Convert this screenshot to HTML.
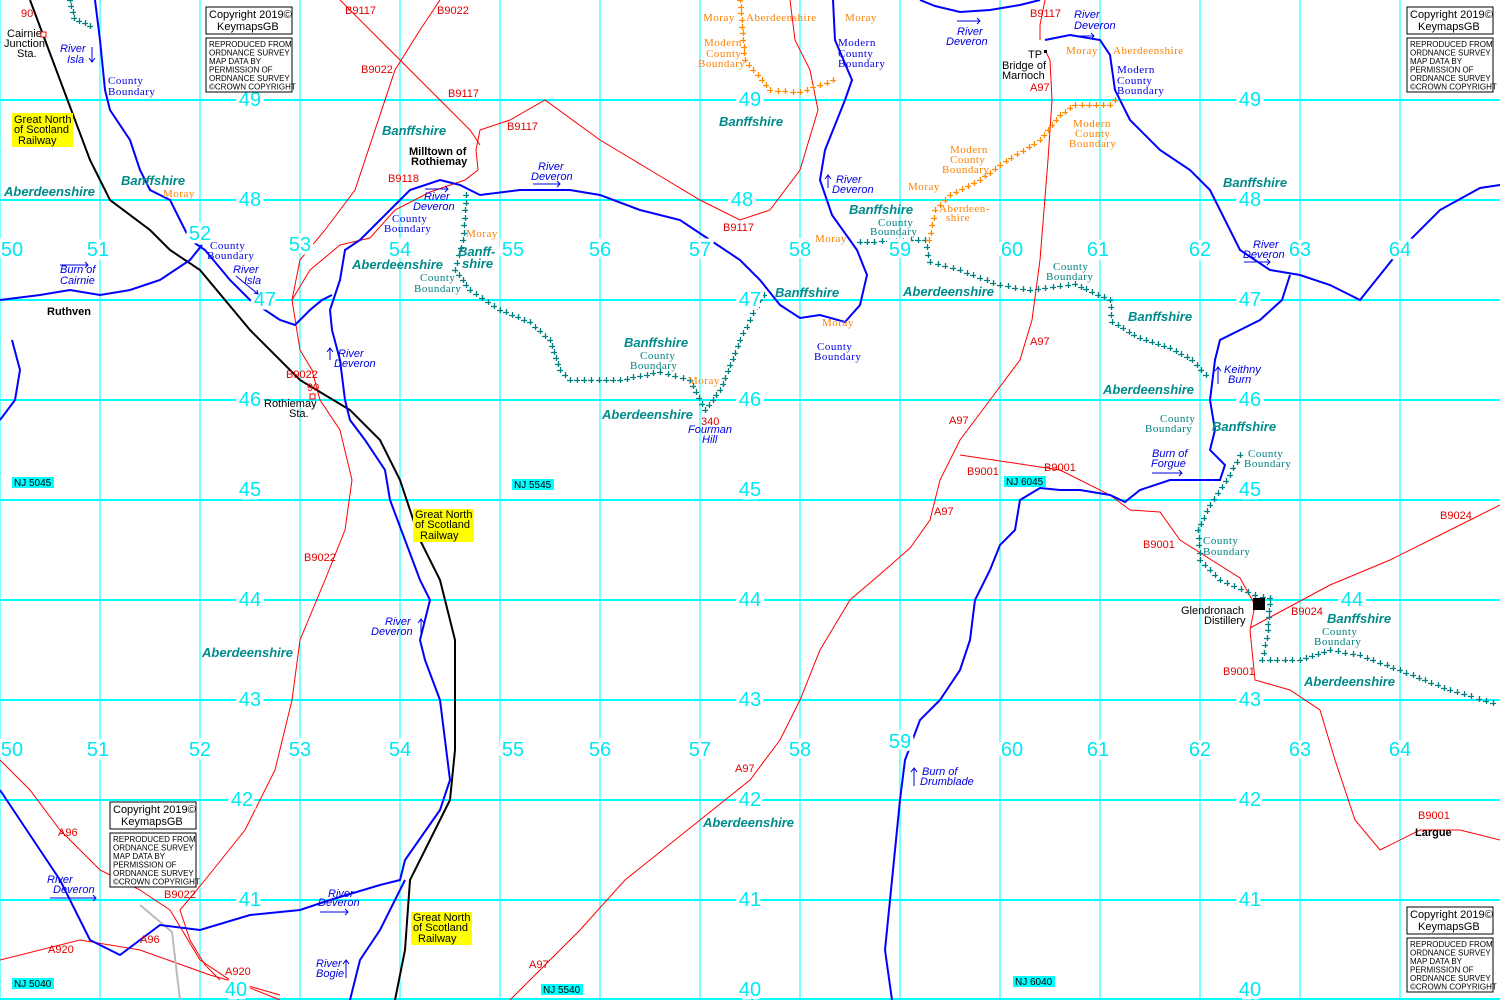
<!DOCTYPE html>
<html><head><meta charset="utf-8"><style>
html,body{margin:0;padding:0;background:#fff}
svg{display:block}
.g{font:20px "Liberation Sans",sans-serif;fill:#00e8f0;paint-order:stroke;stroke:#fff;stroke-width:7px;text-anchor:middle;dominant-baseline:central}
.riv{font:italic 11px "Liberation Sans",sans-serif;fill:#0000e0}
.cb{font:11px "Liberation Serif",serif;fill:#0000e0;letter-spacing:.5px}
.cbt{font:11px "Liberation Serif",serif;fill:#008080;letter-spacing:.5px}
.ray{font:11px "Liberation Serif",serif;fill:#ff8000;letter-spacing:.5px}
.co{font:bold italic 13px "Liberation Sans",sans-serif;fill:#008b8b}
.rd{font:11px "Liberation Sans",sans-serif;fill:#e00000}
.bk{font:11px "Liberation Sans",sans-serif;fill:#000}
.bb{font:bold 11px "Liberation Sans",sans-serif;fill:#000}
.sm{font:8px "Liberation Sans",sans-serif;fill:#000}
</style></head><body>
<svg id="m" width="1500" height="1000" viewBox="0 0 1500 1000" xmlns="http://www.w3.org/2000/svg">
<g stroke="#00ffff" fill="none">
<g stroke-width="1">
<line x1="0" y1="0" x2="0" y2="1000"/><line x1="100" y1="0" x2="100" y2="1000"/><line x1="200" y1="0" x2="200" y2="1000"/><line x1="300" y1="0" x2="300" y2="1000"/><line x1="400" y1="0" x2="400" y2="1000"/><line x1="500" y1="0" x2="500" y2="1000"/><line x1="600" y1="0" x2="600" y2="1000"/><line x1="700" y1="0" x2="700" y2="1000"/><line x1="800" y1="0" x2="800" y2="1000"/><line x1="900" y1="0" x2="900" y2="1000"/><line x1="1000" y1="0" x2="1000" y2="1000"/><line x1="1100" y1="0" x2="1100" y2="1000"/><line x1="1200" y1="0" x2="1200" y2="1000"/><line x1="1300" y1="0" x2="1300" y2="1000"/><line x1="1400" y1="0" x2="1400" y2="1000"/>
</g>
<g stroke-width="2">
<line x1="0" y1="100" x2="1500" y2="100"/><line x1="0" y1="200" x2="1500" y2="200"/><line x1="0" y1="300" x2="1500" y2="300"/><line x1="0" y1="400" x2="1500" y2="400"/><line x1="0" y1="500" x2="1500" y2="500"/><line x1="0" y1="600" x2="1500" y2="600"/><line x1="0" y1="700" x2="1500" y2="700"/><line x1="0" y1="800" x2="1500" y2="800"/><line x1="0" y1="900" x2="1500" y2="900"/><line x1="0" y1="999" x2="1500" y2="999"/>
</g></g>

<g stroke="#ff0000" stroke-width="1" fill="none">
<polyline points="510,1000 580,930 625,880 700,820 750,780 780,740 800,700 820,650 850,600 885,570 910,548 930,520 940,480 960,440 990,400 1020,360 1032,320 1040,260 1048,160 1052,100 1050,60 1045,50"/>
<polyline points="440,0 420,30 395,70 375,130 355,190 325,230 300,260 292,300 300,350 312,370 320,400 340,430 352,480 345,530 325,580 300,640 292,700 275,770 245,830 205,880 180,910 190,940 205,965 220,980"/>
<polyline points="292,300 310,270 340,245 370,238 395,210 430,192 465,180 478,170 476,150 480,130"/>
<polyline points="340,0 380,40 420,80 450,110 470,130 480,145"/>
<polyline points="480,130 510,120 545,100 600,140 650,170 700,200 740,220 770,210 800,170 818,110 810,70 795,40 790,0"/>
<polyline points="960,455 1060,470 1110,495 1130,510 1160,512 1180,540 1240,578 1255,605 1250,630 1255,680 1290,690 1320,710 1335,760 1355,820 1380,850 1420,830 1460,830 1500,840"/>
<polyline points="1250,628 1330,585 1390,560 1430,540 1470,520 1500,505"/>
<polyline points="0,760 30,790 60,830 100,870 140,890 170,910 200,960 230,980 280,1000"/>
<polyline points="0,960 80,940 140,950 210,975 280,995"/>
<polyline points="1040,40 1040,25 1045,0"/>
</g>
<polyline points="30,0 60,80 90,160 110,200 150,230 170,250 200,270 250,330 300,380 350,410 380,440 400,480 420,540 440,580 455,640 455,750 450,800 430,840 410,880 405,950 395,1000" fill="none" stroke="#000" stroke-width="2"/>
<polyline points="140,905 172,932 180,1000" fill="none" stroke="#bbb" stroke-width="2"/>
<g stroke="#0000ff" stroke-width="2" fill="none">
<polyline points="0,790 20,820 40,850 60,880 90,940 120,955 160,925 200,930 250,915 300,910 330,900 380,885 400,880 405,860 440,810 450,780 440,700 425,660 420,640 430,600 420,580 405,540 390,500 385,470 365,440 350,420 345,400 340,360 332,330 330,310 340,280 345,250 360,240 380,220 395,205 410,190 440,180 460,185 470,190 480,195 520,190 570,190 600,195 640,210 680,220 710,240 740,260 760,280 780,305 800,318 820,315 845,322 860,305 867,275 857,250 832,215 820,180 825,150 845,100 852,80 835,40 833,0"/>
<polyline points="920,0 935,6 960,12 990,10 1020,5 1040,0"/>
<polyline points="1045,40 1070,35 1100,40 1110,55 1115,90 1130,120 1160,150 1190,170 1210,190 1225,220 1240,250 1270,270 1300,275 1330,285 1360,300 1400,250 1440,210 1480,188 1500,185"/>
<polyline points="1290,275 1282,300 1260,320 1240,330 1220,340 1215,360 1210,400 1215,430 1210,450 1225,465 1220,480 1200,480 1170,480 1140,490 1125,502 1110,495 1080,490 1060,490 1040,488 1020,500 1015,530 1000,545 990,570 975,600 970,640 960,670 940,700 920,720 905,760 900,800 895,850 890,900 885,950 892,1000"/>
<polyline points="95,0 100,40 105,90 110,110 130,140 140,170 150,190 170,200 180,220 190,240 205,250 230,280 250,300 280,320 295,325 310,310 322,300 332,295"/>
<polyline points="0,300 40,295 70,290 100,295 130,290 160,280 190,260 202,245"/>
<polyline points="12,340 20,370 15,400 0,420"/>
<polyline points="350,1000 360,960 380,930 395,900 405,880"/>
</g>
<g id="cr" stroke-width="1.3" fill="none"></g>

<g class="g">
<text x="12" y="250">50</text><text x="98" y="250">51</text><text x="200" y="234">52</text><text x="300" y="245">53</text><text x="400" y="250">54</text><text x="513" y="250">55</text><text x="600" y="250">56</text><text x="700" y="250">57</text><text x="800" y="250">58</text><text x="900" y="250">59</text><text x="1012" y="250">60</text><text x="1098" y="250">61</text><text x="1200" y="250">62</text><text x="1300" y="250">63</text><text x="1400" y="250">64</text>
<text x="12" y="750">50</text><text x="98" y="750">51</text><text x="200" y="750">52</text><text x="300" y="750">53</text><text x="400" y="750">54</text><text x="513" y="750">55</text><text x="600" y="750">56</text><text x="700" y="750">57</text><text x="800" y="750">58</text><text x="900" y="742">59</text><text x="1012" y="750">60</text><text x="1098" y="750">61</text><text x="1200" y="750">62</text><text x="1300" y="750">63</text><text x="1400" y="750">64</text>
<text x="250" y="100">49</text><text x="750" y="100">49</text><text x="1250" y="100">49</text>
<text x="250" y="200">48</text><text x="742" y="200">48</text><text x="1250" y="200">48</text>
<text x="265" y="300">47</text><text x="750" y="300">47</text><text x="1250" y="300">47</text>
<text x="250" y="400">46</text><text x="750" y="400">46</text><text x="1250" y="400">46</text>
<text x="250" y="490">45</text><text x="750" y="490">45</text><text x="1250" y="490">45</text>
<text x="250" y="600">44</text><text x="750" y="600">44</text><text x="1352" y="600">44</text>
<text x="250" y="700">43</text><text x="750" y="700">43</text><text x="1250" y="700">43</text>
<text x="242" y="800">42</text><text x="750" y="800">42</text><text x="1250" y="800">42</text>
<text x="250" y="900">41</text><text x="750" y="900">41</text><text x="1250" y="900">41</text>
<text x="236" y="990">40</text><text x="750" y="990">40</text><text x="1250" y="990">40</text>
</g>

<g font-family="Liberation Sans" font-size="10">
<rect x="12" y="477" width="42" height="11" fill="#00ffff"/><text x="14" y="486">NJ 5045</text>
<rect x="512" y="479" width="42" height="11" fill="#00ffff"/><text x="514" y="488">NJ 5545</text>
<rect x="1004" y="476" width="42" height="11" fill="#00ffff"/><text x="1006" y="485">NJ 6045</text>
<rect x="12" y="978" width="42" height="11" fill="#00ffff"/><text x="14" y="987">NJ 5040</text>
<rect x="541" y="984" width="42" height="11" fill="#00ffff"/><text x="543" y="993">NJ 5540</text>
<rect x="1013" y="976" width="42" height="11" fill="#00ffff"/><text x="1015" y="985">NJ 6040</text>
</g>

<g class="bk">
<rect x="12" y="113" width="61" height="34" fill="#ffff00"/><text x="14" y="123">Great North</text><text x="14" y="133">of Scotland</text><text x="18" y="144">Railway</text>
<rect x="413" y="509" width="61" height="33" fill="#ffff00"/><text x="415" y="518">Great North</text><text x="415" y="528">of Scotland</text><text x="420" y="539">Railway</text>
<rect x="411" y="912" width="61" height="33" fill="#ffff00"/><text x="413" y="921">Great North</text><text x="413" y="931">of Scotland</text><text x="418" y="942">Railway</text>
</g>

<g id="cp"></g>

<g class="co">
<text x="4" y="196">Aberdeenshire</text><text x="121" y="185">Banffshire</text><text x="382" y="135">Banffshire</text><text x="352" y="269">Aberdeenshire</text>
<text x="458" y="256">Banff-</text><text x="462" y="268">shire</text>
<text x="719" y="126">Banffshire</text><text x="849" y="214">Banffshire</text><text x="775" y="297">Banffshire</text>
<text x="624" y="347">Banffshire</text><text x="602" y="419">Aberdeenshire</text><text x="903" y="296">Aberdeenshire</text>
<text x="1223" y="187">Banffshire</text><text x="1128" y="321">Banffshire</text><text x="1103" y="394">Aberdeenshire</text><text x="1212" y="431">Banffshire</text>
<text x="1327" y="623">Banffshire</text><text x="1304" y="686">Aberdeenshire</text><text x="202" y="657">Aberdeenshire</text><text x="703" y="827">Aberdeenshire</text>
</g>
<g class="riv">
<text x="60" y="52">River</text><text x="67" y="63">Isla</text>
<text x="233" y="273">River</text><text x="244" y="284">Isla</text>
<text x="60" y="273">Burn of</text><text x="60" y="284">Cairnie</text>
<text x="338" y="357">River</text><text x="334" y="367">Deveron</text>
<text x="424" y="200">River</text><text x="413" y="210">Deveron</text>
<text x="538" y="170">River</text><text x="531" y="180">Deveron</text>
<text x="836" y="183">River</text><text x="832" y="193">Deveron</text>
<text x="957" y="35">River</text><text x="946" y="45">Deveron</text>
<text x="1074" y="18">River</text><text x="1074" y="29">Deveron</text>
<text x="1253" y="248">River</text><text x="1243" y="258">Deveron</text>
<text x="1224" y="373">Keithny</text><text x="1228" y="383">Burn</text>
<text x="1152" y="457">Burn of</text><text x="1151" y="467">Forgue</text>
<text x="385" y="625">River</text><text x="371" y="635">Deveron</text>
<text x="922" y="775">Burn of</text><text x="920" y="785">Drumblade</text>
<text x="47" y="883">River</text><text x="53" y="893">Deveron</text>
<text x="328" y="897">River</text><text x="318" y="906">Deveron</text>
<text x="316" y="967">River</text><text x="316" y="977">Bogie</text>
<text x="688" y="433">Fourman</text><text x="702" y="443">Hill</text>
</g>
<g fill="none" stroke="#0000e0" stroke-width="1">
<path d="M92 47V62M89 58L92 62L95 58"/><path d="M236 276L258 294M254 293L258 294L257 290"/>
<path d="M60 265H88M85 262L88 265L85 268"/><path d="M330 360V348M327 352L330 348L333 352"/>
<path d="M425 189H448M445 186L448 189L445 192"/><path d="M533 184H560M557 181L560 184L557 187"/>
<path d="M828 188V175M825 179L828 175L831 179"/><path d="M957 21H980M977 18L980 21L977 24"/>
<path d="M1072 36H1094M1091 33L1094 36L1091 39"/><path d="M1244 262H1270M1267 259L1270 262L1267 265"/>
<path d="M1218 384V367M1215 371L1218 367L1221 371"/><path d="M1152 473H1182M1179 470L1182 473L1179 476"/>
<path d="M421 636V619M418 623L421 619L424 623"/><path d="M914 786V768M911 772L914 768L917 772"/>
<path d="M50 898H96M93 895L96 898L93 901"/><path d="M320 912H348M345 909L348 912L345 915"/>
<path d="M346 978V960M343 964L346 960L349 964"/>
</g>
<g class="cb">
<text x="108" y="84">County</text><text x="108" y="95">Boundary</text>
<text x="210" y="249">County</text><text x="207" y="259">Boundary</text>
<text x="392" y="222">County</text><text x="384" y="232">Boundary</text>
<text x="838" y="46">Modern</text><text x="838" y="57">County</text><text x="838" y="67">Boundary</text>
<text x="1117" y="73">Modern</text><text x="1117" y="84">County</text><text x="1117" y="94">Boundary</text>
<text x="817" y="350">County</text><text x="814" y="360">Boundary</text>
</g>
<g class="cbt">
<text x="420" y="281">County</text><text x="414" y="292">Boundary</text>
<text x="640" y="359">County</text><text x="630" y="369">Boundary</text>
<text x="878" y="226">County</text><text x="870" y="235">Boundary</text>
<text x="1053" y="270">County</text><text x="1046" y="280">Boundary</text>
<text x="1160" y="422">County</text><text x="1145" y="432">Boundary</text>
<text x="1248" y="457">County</text><text x="1244" y="467">Boundary</text>
<text x="1203" y="544">County</text><text x="1203" y="555">Boundary</text>
<text x="1322" y="635">County</text><text x="1314" y="645">Boundary</text>
</g>
<g class="ray">
<text x="163" y="197">Moray</text><text x="466" y="237">Moray</text><text x="703" y="21">Moray</text><text x="746" y="21">Aberdeenshire</text><text x="845" y="21">Moray</text>
<text x="704" y="46">Modern</text><text x="706" y="57">County</text><text x="698" y="67">Boundary</text>
<text x="815" y="242">Moray</text><text x="822" y="326">Moray</text><text x="688" y="384">Moray</text>
<text x="908" y="190">Moray</text><text x="939" y="212">Aberdeen-</text><text x="946" y="221">shire</text>
<text x="950" y="153">Modern</text><text x="950" y="163">County</text><text x="942" y="173">Boundary</text>
<text x="1073" y="127">Modern</text><text x="1075" y="137">County</text><text x="1069" y="147">Boundary</text>
<text x="1066" y="54">Moray</text><text x="1113" y="54">Aberdeenshire</text>
</g>
<g class="rd">
<text x="345" y="14">B9117</text><text x="437" y="14">B9022</text><text x="361" y="73">B9022</text><text x="448" y="97">B9117</text><text x="507" y="130">B9117</text><text x="388" y="182">B9118</text>
<text x="723" y="231">B9117</text><text x="1030" y="17">B9117</text><text x="1030" y="91">A97</text><text x="1030" y="345">A97</text><text x="949" y="424">A97</text><text x="934" y="515">A97</text>
<text x="967" y="475">B9001</text><text x="1044" y="471">B9001</text><text x="1143" y="548">B9001</text><text x="1291" y="615">B9024</text><text x="1440" y="519">B9024</text><text x="1223" y="675">B9001</text><text x="1418" y="819">B9001</text>
<text x="286" y="378">B9022</text><text x="307" y="391">90</text><text x="304" y="561">B9022</text><text x="735" y="772">A97</text><text x="58" y="836">A96</text><text x="164" y="898">B9022</text><text x="140" y="943">A96</text>
<text x="48" y="953">A920</text><text x="225" y="975">A920</text><text x="529" y="968">A97</text><text x="21" y="17">90</text><text x="701" y="425">340</text>
</g>
<g class="bk">
<text x="7" y="37">Cairnie</text><text x="4" y="47">Junction</text><text x="17" y="57">Sta.</text>
<text x="264" y="407">Rothiemay</text><text x="289" y="417">Sta.</text>
<text x="1002" y="69">Bridge of</text><text x="1002" y="79">Marnoch</text><text x="1028" y="58">TP</text>
<text x="1181" y="614">Glendronach</text><text x="1204" y="624">Distillery</text>
</g>
<g class="bb"><text x="409" y="155">Milltown of</text><text x="411" y="165">Rothiemay</text><text x="47" y="315">Ruthven</text><text x="1415" y="836">Largue</text></g>
<rect x="41" y="32" width="5" height="5" fill="#fff" stroke="#f00"/><rect x="310" y="394" width="5" height="5" fill="#fff" stroke="#f00"/>
<rect x="1253" y="598" width="12" height="12" fill="#000"/><rect x="1044" y="50" width="3" height="3" fill="#000"/>
</svg>
<script>
(function(){
var NS="http://www.w3.org/2000/svg",g=document.getElementById('cr');
function cross(pts,col){var a=pts.split(' ').map(function(p){return p.split(',').map(Number)});var d='';
for(var i=0;i<a.length-1;i++){var x0=a[i][0],y0=a[i][1],x1=a[i+1][0],y1=a[i+1][1],L=Math.hypot(x1-x0,y1-y0),n=Math.max(1,Math.round(L/7));
for(var k=0;k<n;k++){var x=Math.round(x0+(x1-x0)*k/n),y=Math.round(y0+(y1-y0)*k/n);d+='M'+(x-3)+' '+(y+.5)+'h6M'+(x+.5)+' '+(y-3)+'v6';}}
var p=document.createElementNS(NS,'path');p.setAttribute('d',d);p.setAttribute('stroke',col);g.appendChild(p);}
var T='#008080',O='#ff8c00';
cross('70,0 74,18 90,26 97,27',T);
cross('466,195 463,240 455,270 470,290 500,310 530,322 550,340 560,370 570,380 620,380 660,372 690,380 705,410 720,390 740,340 760,300 767,290',T);
cross('860,242 925,240 930,262 960,270 1000,285 1030,290 1075,284 1092,292 1110,300 1112,322 1140,338 1170,348 1192,360 1210,380',T);
cross('1240,455 1230,475 1210,505 1198,530 1200,560 1220,580 1255,595 1270,598 1268,630 1262,660 1300,660 1330,650 1360,655 1400,670 1450,690 1500,705',T);
cross('740,0 745,60 770,90 800,92 840,78',O);
cross('929,240 935,210 950,195 980,180 1000,165 1040,140 1060,115 1075,105 1110,105 1120,95',O);
var cp=document.getElementById('cp');
function box(x,y){var s='<rect x="'+x+'" y="'+y+'" width="86" height="27" fill="#fff" stroke="#000"/><text class="bk" x="'+(x+3)+'" y="'+(y+11)+'">Copyright 2019\u00a9</text><text class="bk" x="'+(x+11)+'" y="'+(y+23)+'">KeymapsGB</text><rect x="'+x+'" y="'+(y+31)+'" width="86" height="54" fill="#fff" stroke="#000"/>';
var L=['REPRODUCED FROM','ORDNANCE SURVEY','MAP DATA BY','PERMISSION OF','ORDNANCE SURVEY','\u00a9CROWN COPYRIGHT'];
for(var i=0;i<6;i++)s+='<text class="sm" x="'+(x+3)+'" y="'+(y+40+i*8.5)+'">'+L[i]+'</text>';return s;}
cp.innerHTML=box(206,7)+box(1407,7)+box(110,802)+box(1407,907);
})();
</script>
</body></html>
